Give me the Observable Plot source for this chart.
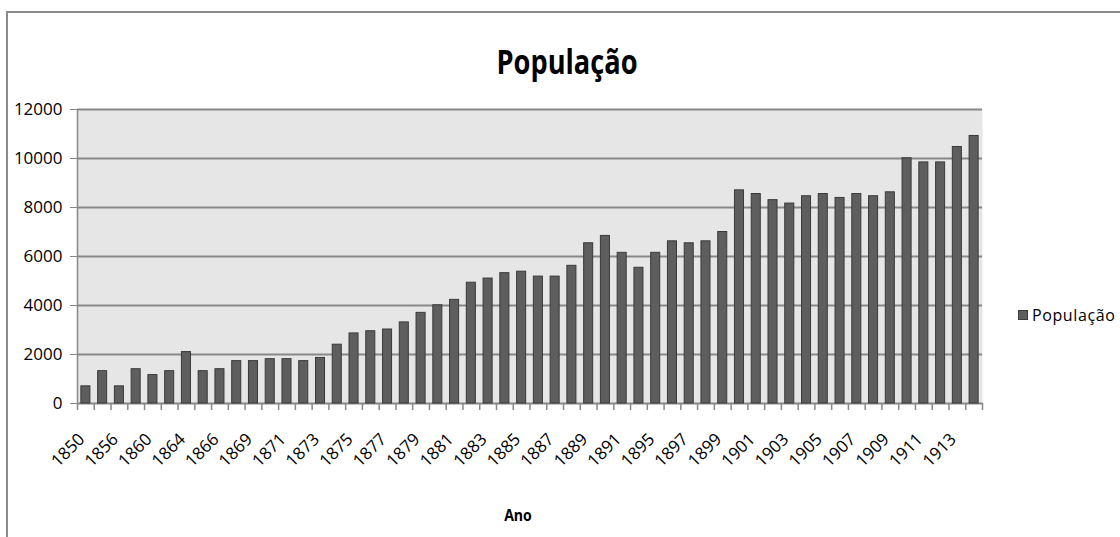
<!DOCTYPE html>
<html>
<head>
<meta charset="utf-8">
<script src="https://cdn.jsdelivr.net/npm/d3@7"></script>
<script src="https://cdn.jsdelivr.net/npm/@observablehq/plot@0.6"></script>
<style>
  body { margin: 0; background: #fff; }
  #wrap { position: relative; width: 1120px; height: 537px; overflow: hidden; font-family: "Open Sans", sans-serif; }
  #frame { position: absolute; left: 6px; top: 11px; width: 1300px; height: 700px; border-left: 2px solid #8a8a8a; border-top: 2px solid #8a8a8a; }
  #chart { position: absolute; left: 0; top: 0; }
  #title { position: absolute; left: 467px; width: 200px; top: 38px; text-align: center; font-weight: bold; font-size: 34px; line-height: normal; color: #000; transform: scaleX(0.8); transform-origin: 100px 0; }
  #xlabel { position: absolute; left: 418px; width: 200px; top: 504px; text-align: center; font-weight: bold; font-size: 16px; color: #000; transform: scaleX(0.88); }
  #legend { position: absolute; left: 1018px; top: 304px; font-size: 16px; letter-spacing: 0.6px; display: flex; align-items: center; color: #000; white-space: nowrap; }
  #legend .sw { width: 8px; height: 8px; background: #5e5e5e; border: 1px solid #3c3c3c; margin-right: 4px; }
</style>
</head>
<body>
<div id="wrap">
  <div id="frame"></div>
  <div id="chart"></div>
  <div id="title">População</div>
  <div id="xlabel">Ano</div>
  <div id="legend"><span class="sw"></span><span>População</span></div>
</div>
<script>
// Categories (years); unlabeled intermediate years are estimates
const years = [
  "1850","1854","1856","1858","1860","1862","1864","1865","1866","1868",
  "1869","1870","1871","1872","1873","1874","1875","1876","1877","1878",
  "1879","1880","1881","1882","1883","1884","1885","1886","1887","1888",
  "1889","1890","1891","1893","1895","1896","1897","1898","1899","1900",
  "1901","1902","1903","1904","1905","1906","1907","1908","1909","1910",
  "1911","1912","1913","1914"
];
// Population values
const populacao = [
  700, 1320, 700, 1400, 1160, 1320, 2100, 1320, 1400, 1730,
  1730, 1810, 1810, 1730, 1860, 2400, 2860, 2950, 3020, 3310,
  3700, 4010, 4230, 4930, 5100, 5320, 5380, 5180, 5180, 5620,
  6540, 6840, 6150, 5540, 6150, 6620, 6540, 6620, 7000, 8700,
  8550, 8300, 8160, 8460, 8550, 8390, 8550, 8460, 8620, 10010,
  9840, 9840, 10470, 10920
];
// Tick labels shown on the x axis (every other category)
const xTickLabels = years.filter((d, i) => i % 2 === 0);
const yTicks = [0, 2000, 4000, 6000, 8000, 10000, 12000];

const data = years.map((ano, i) => ({ano, valor: populacao[i]}));

const W = 1120, H = 537, ML = 77, MR = 138, MT = 109, MB = 134;
const step = (W - ML - MR) / years.length;
const firstYear = years[0];
const lastYear = years[years.length - 1];

const chart = Plot.plot({
  width: W,
  height: H,
  marginLeft: ML,
  marginRight: MR,
  marginTop: MT,
  marginBottom: MB,
  style: { fontFamily: '"Open Sans", sans-serif', fontSize: "17px", color: "#000", background: "transparent" },
  x: { type: "band", domain: years, paddingInner: 0.46, paddingOuter: 0.23, align: 0.5, axis: null },
  y: { domain: [0, 12000] },
  marks: [
    Plot.frame({ fill: "#e6e6e6", stroke: null }),
    Plot.gridY({ ticks: yTicks, stroke: "#888", strokeOpacity: 1, strokeWidth: 2 }),
    // vertical value axis line on the left edge of the plot area
    Plot.ruleX([firstYear], { x: d => d, dx: -step / 2, stroke: "#888", strokeWidth: 1.5 }),
    Plot.axisY({ ticks: yTicks, tickSize: 7, tickPadding: 8, stroke: "#888", label: null, fontSize: 17, tickFormat: d => String(d) }),
    // category boundary tick marks below the axis
    Plot.ruleX(years, { x: d => d, dx: -step / 2, y1: 0, y2: 0, insetBottom: -7, stroke: "#888", strokeWidth: 1.5 }),
    Plot.ruleX([lastYear], { x: d => d, dx: step / 2, y1: 0, y2: 0, insetBottom: -7, stroke: "#888", strokeWidth: 1.5 }),
    Plot.barY(data, { x: "ano", y: "valor", fill: "#5e5e5e", stroke: "#3a3a3a", strokeWidth: 1 }),
    // rotated category labels
    Plot.text(xTickLabels, { x: d => d, text: d => d, frameAnchor: "bottom", dy: 33, dx: -4, rotate: -45, textAnchor: "end", lineAnchor: "middle", fontSize: 17, fill: "#000" })
  ]
});
document.getElementById("chart").appendChild(chart);
</script>
</body>
</html>
